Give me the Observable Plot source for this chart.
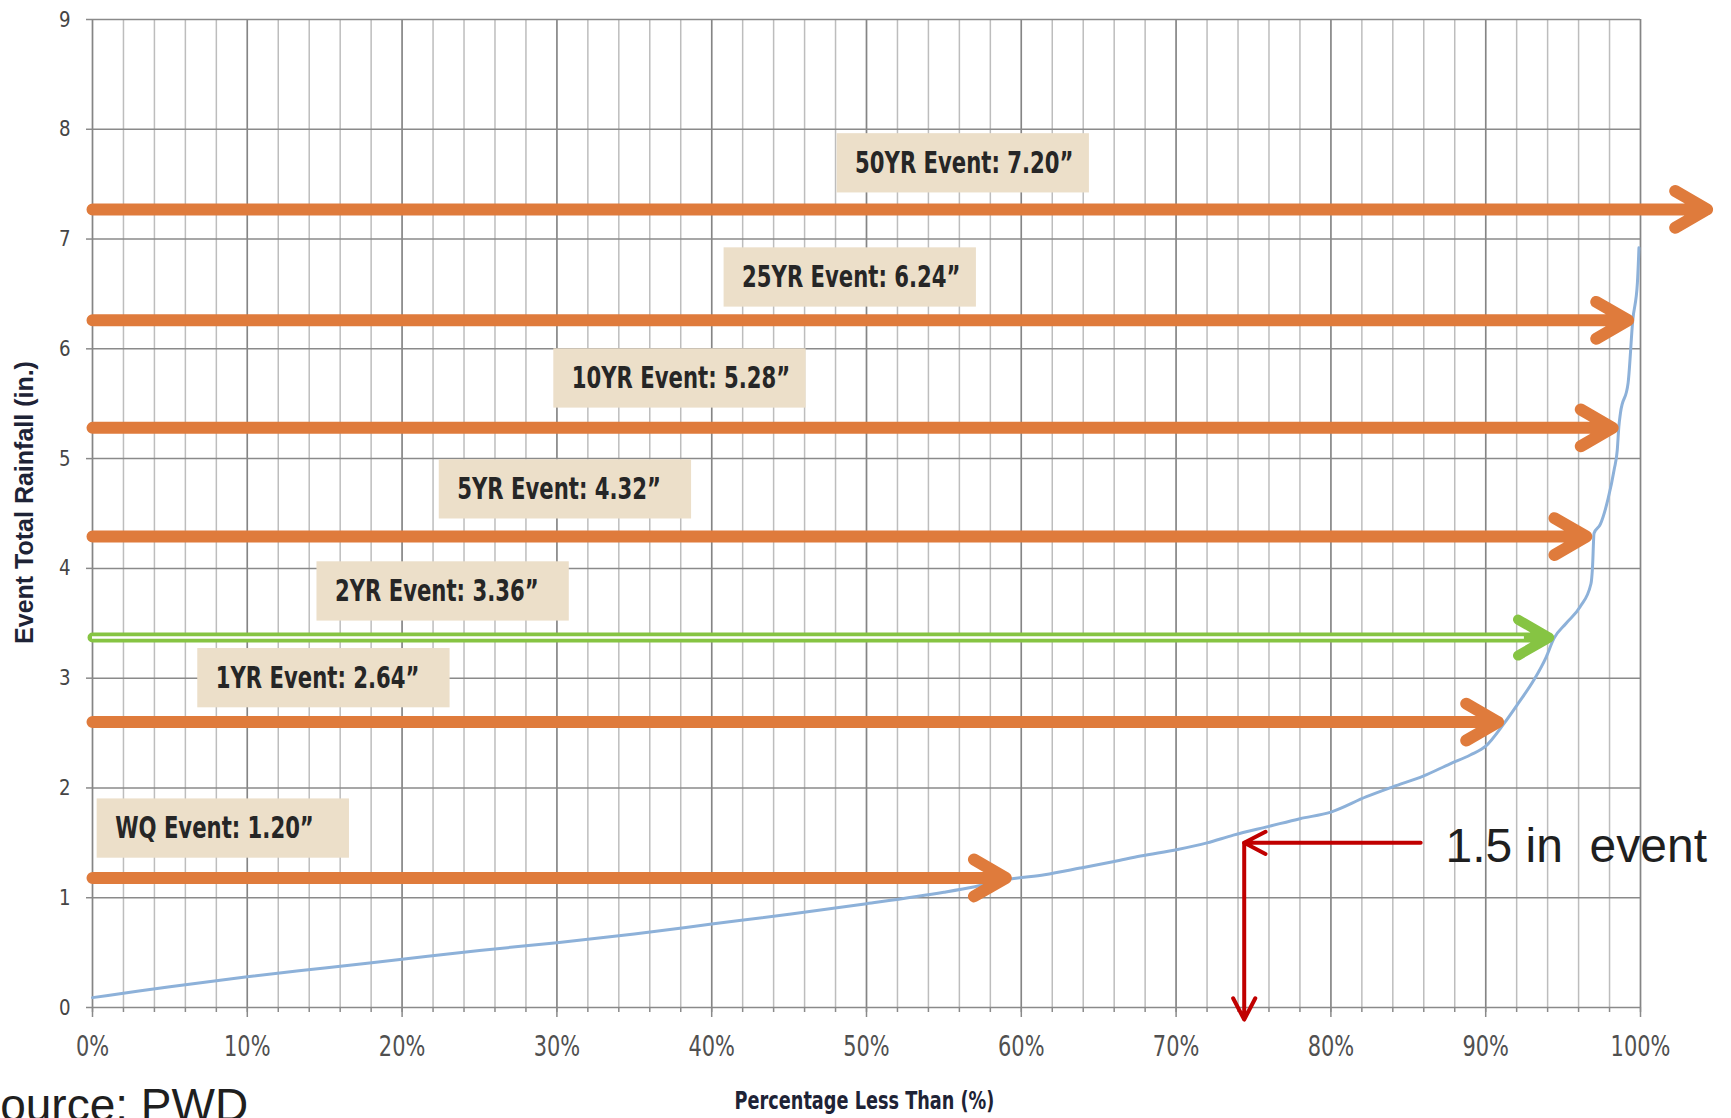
<!DOCTYPE html>
<html><head><meta charset="utf-8">
<script src="https://cdn.jsdelivr.net/npm/d3@7"></script>
<script src="https://cdn.jsdelivr.net/npm/@observablehq/plot@0.6"></script>
<style>
html,body{margin:0;padding:0;background:#fff;overflow:hidden;}
</style></head><body><div id="chart"></div>
<script>
// ---- data ----
const pctMajorTicks = [0,10,20,30,40,50,60,70,80,90,100];
const pctMinorTicks = [0,2,4,6,8,10,12,14,16,18,20,22,24,26,28,30,32,34,36,38,40,42,44,46,48,50,52,54,56,58,60,62,64,66,68,70,72,74,76,78,80,82,84,86,88,90,92,94,96,98,100];
const depthTicks = [0,1,2,3,4,5,6,7,8,9];

// cumulative distribution of event rainfall
const curvePct   = [0, 2, 5, 10, 15, 20, 25, 30, 35, 40, 45, 50, 55, 57, 59.3, 61.5, 63.8, 66, 67.7, 70.1, 72, 73.7, 76, 78, 80, 82.3, 84, 86, 87.7, 89, 90, 91.2, 92.1, 93.1, 93.9, 94.4, 95.2, 96.1, 96.8, 96.9, 97.0, 97.4, 97.9, 98.3, 98.5, 98.6, 98.7, 99.2, 99.5, 99.8, 99.9];
const curveDepth = [0.09, 0.13, 0.19, 0.28, 0.36, 0.44, 0.52, 0.59, 0.67, 0.76, 0.85, 0.945, 1.05, 1.10, 1.17, 1.21, 1.27, 1.33, 1.38, 1.44, 1.50, 1.57, 1.65, 1.72, 1.78, 1.92, 2.01, 2.11, 2.22, 2.30, 2.38, 2.59, 2.77, 2.98, 3.19, 3.36, 3.50, 3.65, 3.86, 4.01, 4.32, 4.40, 4.63, 4.90, 5.08, 5.29, 5.41, 5.69, 6.26, 6.60, 6.92];

// design storm events
const eventLabels   = ["WQ Event: 1.20\u201d", "1YR Event: 2.64\u201d", "2YR Event: 3.36\u201d", "5YR Event: 4.32\u201d", "10YR Event: 5.28\u201d", "25YR Event: 6.24\u201d", "50YR Event: 7.20\u201d"];
const eventDepth    = [1.18, 2.60, 3.37, 4.29, 5.28, 6.26, 7.27];   // level of each arrow as drawn
const eventReach    = [59.0, 90.8, 94.1, 96.5, 98.2, 99.2, 104.3];  // % where each arrow ends
const labelLeftPct  = [0.3, 6.8, 14.5, 22.4, 29.8, 40.8, 48.1];     // label anchor (%)
const labelMidDepth = [1.63, 3.00, 3.79, 4.72, 5.73, 6.65, 7.69];   // label anchor (in.)
const highlightEvent = "2YR Event: 3.36\u201d";

// 1.5 in annotation
const markerDepth = 1.5, markerPct = 74.4, markerFromPct = 85.8, markerTextPct = 87.4, markerBottom = -0.11;
const markerLabel = "1.5 in\u00a0 event";

const yTitle = "Event Total Rainfall (in.)";
const xTitle = "Percentage Less Than (%)";
const sourceText = "Source: PWD";

// ---- build ----
const curve = curvePct.map((p, i) => ({pct: p, depth: curveDepth[i]}));
const events = eventLabels.map((label, i) => ({label, depth: eventDepth[i], reach: eventReach[i], left: labelLeftPct[i], mid: labelMidDepth[i]}));
const orangeEvents = events.filter(e => e.label !== highlightEvent);
const greenEvents = events.filter(e => e.label === highlightEvent);

const NARROW = "'DejaVu Sans Condensed','DejaVu Sans',sans-serif";
const SANS = "'Liberation Sans',Arial,sans-serif";
const ORANGE = "#df7b3c", GREEN = "#86c443", BLUE = "#8db1d9", RED = "#c00000";
const BOX_W = 16.3, BOX_H = 0.54;

const chart = Plot.plot({
  width: 1731, height: 1118,
  marginLeft: 92, marginRight: 91, marginTop: 19, marginBottom: 111,
  x: {domain: [0, 100], axis: null},
  y: {domain: [0, 9], axis: null},
  style: {background: "#fff", fontFamily: NARROW},
  marks: [
    Plot.ruleX(pctMinorTicks, {stroke: "#bdbdbd", strokeWidth: 1.5}),
    Plot.ruleX(pctMajorTicks, {stroke: "#858585", strokeWidth: 1.5}),
    Plot.ruleY(depthTicks, {stroke: "#8a8a8a", strokeWidth: 1.5}),
    Plot.axisX({ticks: pctMinorTicks, tickSize: 5, tickFormat: () => "", stroke: "#8a8a8a", strokeWidth: 1.5, label: null}),
    Plot.axisX({ticks: pctMajorTicks, tickSize: 10, tickPadding: 19, tickFormat: d => d + "%", fontSize: 28, fontFamily: NARROW, fill: "#505050", stroke: "#8a8a8a", strokeWidth: 1.5, label: null}),
    Plot.axisY({ticks: depthTicks, tickSize: 6, tickPadding: 16, fontSize: 22, fontFamily: NARROW, fill: "#454545", stroke: "#8a8a8a", strokeWidth: 1.5, label: null}),
    Plot.line(curve, {x: "pct", y: "depth", stroke: BLUE, strokeWidth: 3, curve: "monotone-x"}),
    Plot.rect(events, {x1: "left", x2: d => d.left + BOX_W, y1: d => d.mid - BOX_H / 2, y2: d => d.mid + BOX_H / 2, fill: "#ecdfc9"}),
    Plot.text(events, {x: "left", y: "mid", text: "label", dx: 18, textAnchor: "start", lineAnchor: "middle", fontSize: 31, fontWeight: "bold", fontFamily: NARROW, fill: "#262626"}),
    Plot.arrow(orangeEvents, {x1: 0, y1: "depth", x2: "reach", y2: "depth", stroke: ORANGE, strokeWidth: 12, headLength: 4.6, headAngle: 60, strokeLinecap: "round", strokeLinejoin: "round"}),
    Plot.arrow(greenEvents, {x1: 0, y1: "depth", x2: "reach", y2: "depth", stroke: GREEN, strokeWidth: 10, headLength: 5.4, headAngle: 60, strokeLinecap: "round", strokeLinejoin: "round"}),
    Plot.ruleY(greenEvents, {y: "depth", x1: 0, x2: d => d.reach - 1.6, stroke: "#ffffff", strokeWidth: 2.5}),
    Plot.arrow([markerLabel], {x1: markerFromPct, x2: markerPct, y1: markerDepth, y2: markerDepth, stroke: RED, strokeWidth: 4, headLength: 9, headAngle: 55, strokeLinecap: "round", strokeLinejoin: "round"}),
    Plot.arrow([markerLabel], {x1: markerPct, x2: markerPct, y1: markerDepth, y2: markerBottom, stroke: RED, strokeWidth: 4, headLength: 9, headAngle: 55, strokeLinecap: "round", strokeLinejoin: "round"}),
    Plot.text([markerLabel], {x: markerTextPct, y: markerDepth, text: d => d, dy: 4, textAnchor: "start", lineAnchor: "middle", fontSize: 48, fontFamily: SANS, fill: "#1f1f1f"}),
    Plot.text([yTitle], {frameAnchor: "left", dx: -68, dy: -11, rotate: -90, text: d => d, textAnchor: "middle", lineAnchor: "middle", fontSize: 25, fontWeight: "bold", fontFamily: SANS, fill: "#1e2336"}),
    Plot.text([xTitle], {frameAnchor: "bottom", dx: -2, dy: 94, text: d => d, textAnchor: "middle", lineAnchor: "middle", fontSize: 24, fontWeight: "bold", fontFamily: NARROW, fill: "#1e2336"}),
    Plot.text([sourceText], {frameAnchor: "bottom-left", dx: -123, dy: 113, text: d => d, textAnchor: "start", lineAnchor: "bottom", fontSize: 46, fontFamily: SANS, fill: "#1f1f1f"})
  ]
});

// the reference's lettering is horizontally compressed: squeeze those texts about their anchors
const squish = {31: 0.76, 28: 0.83, 22: 0.92, 24: 0.82};
chart.querySelectorAll("g").forEach(g => {
  if (g.getAttribute("font-family") !== NARROW) return;
  const s = squish[parseFloat(g.getAttribute("font-size"))];
  if (!s) return;
  g.querySelectorAll("text").forEach(t => {
    const tr = t.getAttribute("transform") || "";
    t.setAttribute("transform", tr + ` scale(${s},1)`);
  });
});
document.getElementById("chart").appendChild(chart);
</script></body></html>
